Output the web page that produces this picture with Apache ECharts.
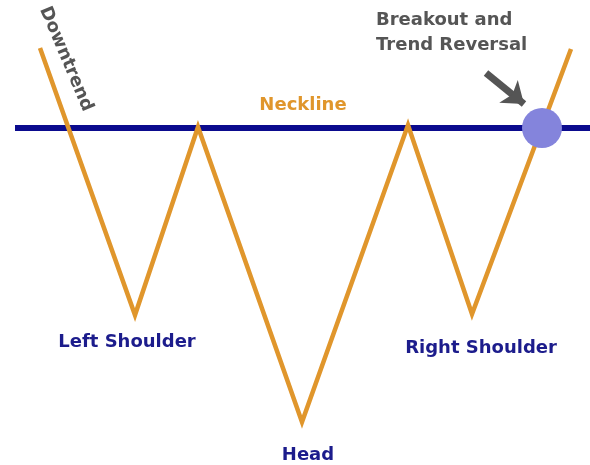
<!DOCTYPE html>
<html><head><meta charset="utf-8">
<script src="https://cdn.jsdelivr.net/npm/echarts@6/dist/echarts.min.js"></script>
<style>html,body{margin:0;padding:0;background:#fff}#c{width:590px;height:465px}</style>
</head><body><div id="c"></div>
<script>
// Price path (x = time position, y = price level drawn downward-inverted)
const pathX = [40, 135, 198, 302, 408, 472, 571];
const pathY = [48, 315, 127, 422, 125, 314, 49];
const necklineX = [15, 590];
const necklineY = [128, 128];
const breakoutPoint = [542, 128];
const arrowFrom = [486, 73];
const arrowTo = [524, 104];
const labelTexts = ['Left Shoulder', 'Head', 'Right Shoulder'];
const labelX = [127, 308, 481];
const labelY = [342, 455, 348];
const necklineLabel = ['Neckline', 303, 105];
const downtrendLabel = ['Downtrend', 66, 59];
const breakoutLines = ['Breakout and', 'Trend Reversal'];
const breakoutLabelPos = [376, 33];

const FONT = 'DejaVu Sans';
const solid = {opacity: 1};
const chart = echarts.init(document.getElementById('c'));
chart.setOption({
  animation: false,
  grid: {left: 0, right: 0, top: 0, bottom: 0},
  xAxis: {type: 'value', min: 0, max: 590, show: false},
  yAxis: {type: 'value', min: 0, max: 465, inverse: true, show: false},
  series: [
    {
      type: 'line', data: necklineX.map((x, i) => [x, necklineY[i]]),
      symbol: 'none', lineStyle: {color: '#0b0b8e', width: 6}, z: 2
    },
    {
      type: 'line', data: pathX.map((x, i) => [x, pathY[i]]),
      symbol: 'none', lineStyle: {color: '#e0962c', width: 4.5, join: 'miter'}, z: 3,
      markLine: {
        silent: true, symbol: ['none', 'arrow'], symbolSize: [22, 20],
        lineStyle: {color: '#555555', width: 7, type: 'solid', opacity: 1},
        label: {show: false},
        data: [[{coord: arrowFrom}, {coord: arrowTo}]]
      }
    },
    {
      type: 'scatter', data: [breakoutPoint], symbolSize: 40,
      itemStyle: {color: '#8484dc', opacity: 1}, z: 4
    },
    {
      type: 'scatter', symbolSize: 0, z: 5, itemStyle: solid,
      data: labelTexts.map((t, i) => ({value: [labelX[i], labelY[i]], name: t})),
      label: {show: true, position: 'inside', formatter: p => p.name,
        fontFamily: FONT, fontWeight: 'bold', fontSize: 18, color: '#1c1c8c'}
    },
    {
      type: 'scatter', symbolSize: 0, z: 5, itemStyle: solid,
      data: [{value: [necklineLabel[1], necklineLabel[2]], name: necklineLabel[0]}],
      label: {show: true, position: 'inside', formatter: p => p.name,
        fontFamily: FONT, fontWeight: 'bold', fontSize: 18, color: '#e0962c'}
    },
    {
      type: 'scatter', symbolSize: 0, z: 5, itemStyle: solid,
      data: [{value: [downtrendLabel[1], downtrendLabel[2]], name: downtrendLabel[0]}],
      label: {show: true, position: 'inside', rotate: -67, formatter: p => p.name,
        fontFamily: FONT, fontWeight: 'bold', fontSize: 18, color: '#555555'}
    },
    {
      type: 'scatter', symbolSize: 0, z: 5, itemStyle: solid,
      data: [{value: breakoutLabelPos, name: breakoutLines.join('\n')}],
      label: {show: true, position: 'right', distance: 0, formatter: p => p.name,
        fontFamily: FONT, fontWeight: 'bold', fontSize: 18, lineHeight: 25, color: '#555555'}
    }
  ]
});
</script></body></html>
